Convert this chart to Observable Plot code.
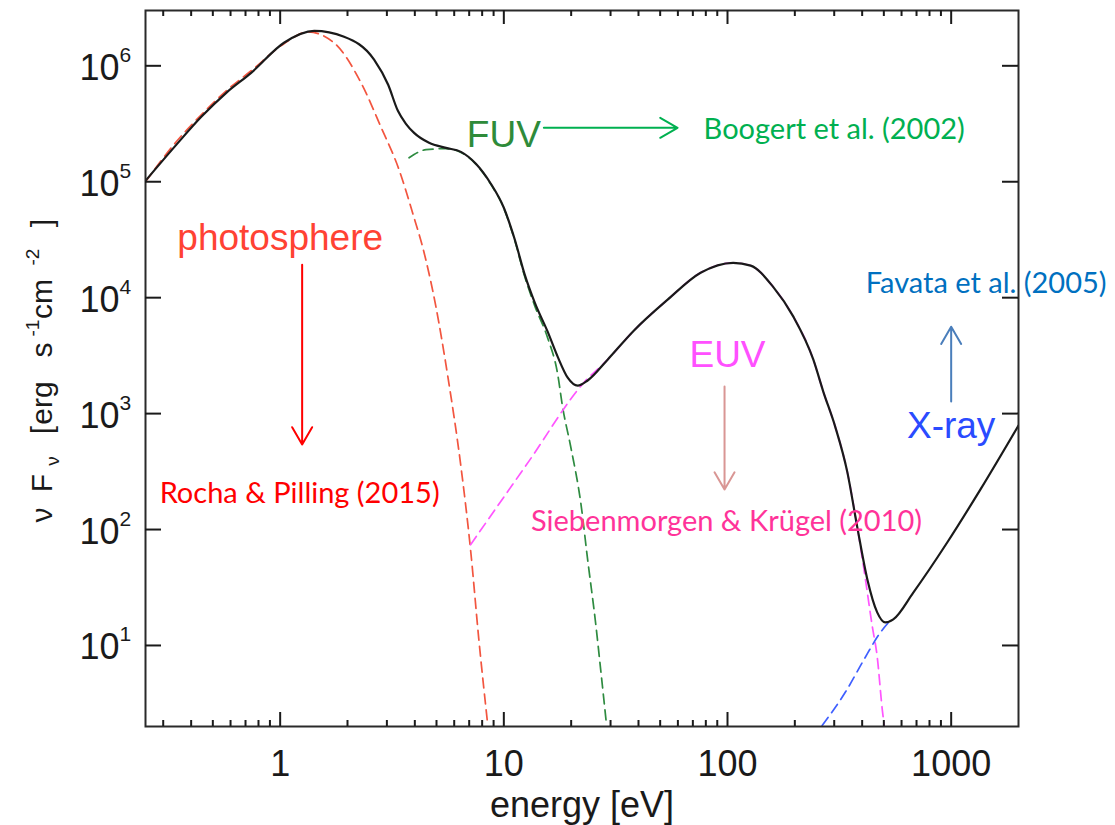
<!DOCTYPE html>
<html>
<head>
<meta charset="utf-8">
<script src="https://cdn.jsdelivr.net/npm/d3@7"></script>
<script src="https://cdn.jsdelivr.net/npm/@observablehq/plot@0.6"></script>
<style>
  body { margin: 0; background: #fff; }
  svg { display: block; }
</style>
</head>
<body>
<div id="chart"></div>
<script>
// Spectral energy distribution of a young star: energy (eV) vs νFν (erg s^-1 cm^-2)

// total spectrum (solid black)
const totalE = [0.25, 0.343, 0.444, 0.574, 0.742, 1.04, 1.42, 1.93, 2.63, 3.04, 3.36, 3.65, 3.97, 4.63, 5.51, 6.43, 7.50, 8.75, 10.0, 11.2, 12.4, 13.75, 15.7, 17.4, 19.3, 21.4, 23.7, 29.1, 38.1, 54.0, 75.8, 106, 127, 160, 197, 242, 268, 303, 343, 380, 422, 467, 507, 551, 677, 960, 1350, 2000];
const totalF = [1.02e5, 2.08e5, 3.63e5, 5.85e5, 8.70e5, 1.58e6, 2.0e6, 1.78e6, 1.13e6, 6.86e5, 4.09e5, 3.16e5, 2.64e5, 2.17e5, 1.96e5, 1.81e5, 1.43e5, 9.61e4, 5.97e4, 3.16e4, 1.58e4, 9.06e3, 5.09e3, 3.10e3, 2.04e3, 1.74e3, 1.93e3, 2.92e3, 5.19e3, 9.61e3, 1.64e4, 2.0e4, 1.89e4, 1.24e4, 6.86e3, 2.92e3, 1.55e3, 773, 316, 106, 37.1, 19.3, 15.8, 16.8, 28.6, 77.3, 221, 790];

// photosphere (red dashed)
const photE = [0.25, 0.343, 0.444, 0.574, 0.742, 1.04, 1.33, 1.74, 2.30, 2.82, 3.40, 3.92, 4.39, 4.97, 5.62, 6.43, 7.12, 7.73, 8.48];
const photF = [1.0e5, 2.21e5, 3.78e5, 6.09e5, 9.06e5, 1.55e6, 1.96e6, 1.58e6, 7.13e5, 2.98e5, 1.27e5, 5.30e4, 2.49e4, 8.36e3, 2.08e3, 349, 63.4, 11.3, 2.04];

// far-UV component (green dashed)
const fuvE = [3.77, 4.49, 5.51, 6.43, 7.50, 8.75, 10.0, 11.2, 12.4, 13.75, 15.7, 17.4, 18.3, 19.9, 22.1, 23.7, 25.8, 27.1, 28.8];
const fuvF = [1.61e5, 1.89e5, 1.93e5, 1.79e5, 1.42e5, 9.5e4, 5.9e4, 3.1e4, 1.52e4, 8.5e3, 4.5e3, 2.2e3, 1.15e3, 520, 168, 55, 14.9, 6.2, 2.04];

// extreme-UV component (magenta dashed)
const euvE = [7.1, 13.0, 22.8, 29.1, 38.1, 54.0, 75.8, 106, 127, 160, 197, 242, 268, 303, 343, 380, 405, 444, 467, 492, 502];
const euvF = [74, 393, 1850, 2.92e3, 5.19e3, 9.61e3, 1.64e4, 2.0e4, 1.89e4, 1.24e4, 6.86e3, 2.92e3, 1.55e3, 773, 316, 106, 49, 14.6, 8.0, 2.8, 2.04];

// X-ray component (blue dashed)
const xrayE = [265, 343, 405, 482, 540];
const xrayF = [2.04, 4.2, 7.4, 12.9, 16.8];

// axis ticks
const xMajor = [1, 10, 100, 1000];
const xMinor = [0.3, 0.4, 0.5, 0.6, 0.7, 0.8, 0.9, 2, 3, 4, 5, 6, 7, 8, 9, 20, 30, 40, 50, 60, 70, 80, 90, 200, 300, 400, 500, 600, 700, 800, 900];
const yMajor = [1e1, 1e2, 1e3, 1e4, 1e5, 1e6];
const yExp = ["1", "2", "3", "4", "5", "6"];

// band names
const bandText = ["photosphere", "FUV", "EUV", "X-ray"];
const bandE = [1.0, 10, 100, 1000];
const bandF = [2.59e4, 2.0e5, 2.54e3, 621];
const bandColor = ["#ff4233", "#2e8b3a", "#ff50ff", "#2a4bff"];

// literature references
const refText = ["Rocha & Pilling (2015)", "Boogert et al. (2002)", "Siebenmorgen & Krügel (2010)", "Favata et al. (2005)"];
const refE = [1.222, 300, 99, 1433];
const refF = [171, 2.35e5, 98, 1.10e4];
const refColor = ["#ff0000", "#00b050", "#ff3399", "#0070c0"];

// pointers from band names to references
const arrowE1 = [1.254, 15.1, 97, 1000];
const arrowF1 = [1.92e4, 2.92e5, 1.71e3, 1.27e3];
const arrowE2 = [1.254, 59.8, 97, 1000];
const arrowF2 = [541, 2.92e5, 221, 5.62e3];
const arrowColor = ["#ff0000", "#00b050", "#d99694", "#4a7ebb"];

const rows = (E, F) => E.map((e, i) => ({e, f: F[i]}));
const bands = bandText.map((t, i) => ({t, e: bandE[i], f: bandF[i], c: bandColor[i]}));
const refs = refText.map((t, i) => ({t, e: refE[i], f: refF[i], c: refColor[i]}));
const arrows = arrowE1.map((e, i) => ({x1: e, y1: arrowF1[i], x2: arrowE2[i], y2: arrowF2[i], c: arrowColor[i]}));

const W = 1115, H = 825, mL = 145, mR = 97, mT = 10, mB = 99;
const frameW = W - mL - mR, frameH = H - mT - mB;
const helv = "'Liberation Sans', Arial, Helvetica, sans-serif";
const calib = "Lato, 'Noto Sans', sans-serif";
const ink = "#1a1a1a";

const dashed = (data, color) => Plot.line(data, {
  x: "e", y: "f", stroke: color, strokeWidth: 1.7, strokeDasharray: "10,6",
  curve: "monotone-x", clip: true
});

const chart = Plot.plot({
  width: W, height: H,
  marginLeft: mL, marginRight: mR, marginTop: mT, marginBottom: mB,
  style: {fontFamily: helv, background: "#fff", color: ink},
  x: {type: "log", domain: [0.25, 2000], axis: null},
  y: {type: "log", domain: [2, 3e6], axis: null},
  color: {type: "identity"},
  marks: [
    dashed(rows(photE, photF), "#f2553f"),
    dashed(rows(fuvE, fuvF), "#2e8b40"),
    dashed(rows(euvE, euvF), "#ff55ff"),
    dashed(rows(xrayE, xrayF), "#3f5fff"),
    Plot.line(rows(totalE, totalF), {x: "e", y: "f", stroke: ink, strokeWidth: 2.2, curve: "monotone-x", clip: true}),

    Plot.frame({stroke: "#2a2a2a", strokeWidth: 2}),
    Plot.tickX(xMajor, {x: d => d, insetTop: frameH - 14, stroke: ink, strokeWidth: 2}),
    Plot.tickX(xMajor, {x: d => d, insetBottom: frameH - 14, stroke: ink, strokeWidth: 2}),
    Plot.tickX(xMinor, {x: d => d, insetTop: frameH - 6, stroke: ink, strokeWidth: 2}),
    Plot.tickX(xMinor, {x: d => d, insetBottom: frameH - 6, stroke: ink, strokeWidth: 2}),
    Plot.tickY(yMajor, {y: d => d, insetRight: frameW - 16, stroke: ink, strokeWidth: 2}),
    Plot.tickY(yMajor, {y: d => d, insetLeft: frameW - 16, stroke: ink, strokeWidth: 2}),

    Plot.text(xMajor, {x: d => d, frameAnchor: "bottom", text: d => String(d), dy: 49, lineAnchor: "bottom", fontSize: 36, fill: ink}),
    Plot.text(yMajor, {y: d => d, frameAnchor: "left", text: () => "10", textAnchor: "end", dx: -26, dy: 14, lineAnchor: "bottom", fontSize: 36, fill: ink}),
    Plot.text(yMajor, {y: d => d, frameAnchor: "left", text: (d, i) => yExp[i], textAnchor: "start", dx: -26, dy: -4, lineAnchor: "bottom", fontSize: 21, fill: ink}),
    Plot.text(["energy [eV]"], {frameAnchor: "bottom", text: d => d, dy: 90, lineAnchor: "bottom", fontSize: 36, fill: ink}),

    Plot.arrow(arrows, {x1: "x1", y1: "y1", x2: "x2", y2: "y2", stroke: "c", strokeWidth: 2, headLength: 15, headAngle: 60}),
    Plot.text(bands, {x: "e", y: "f", text: "t", fill: "c", fontSize: 37, lineAnchor: "bottom", textAnchor: "middle", fontFamily: helv}),
    Plot.text(refs, {x: "e", y: "f", text: "t", fill: "c", fontSize: 29, lineAnchor: "bottom", textAnchor: "middle", fontFamily: calib})
  ]
});

// vertical axis title with sub- and superscripts
const title = d3.select(chart).append("text")
  .attr("transform", "translate(52,515) rotate(-90)")
  .attr("font-family", helv)
  .attr("font-size", 30)
  .attr("fill", ink);
const parts = [
  ["ν", 0, 0, 30], ["F", 32, 0, 30], ["ν", 54, 7, 19], ["[", 85, 0, 30],
  ["erg", 112, 0, 30], ["s", 165, 0, 30], ["-1", 187, -13, 19],
  ["cm", 216, 0, 30], ["-2", 258, -13, 19], ["]", 292, 0, 30]
];
for (const [t, x, y, s] of parts) {
  title.append("tspan").attr("x", x).attr("y", y).attr("font-size", s).text(t);
}

document.getElementById("chart").append(chart);
</script>
</body>
</html>
